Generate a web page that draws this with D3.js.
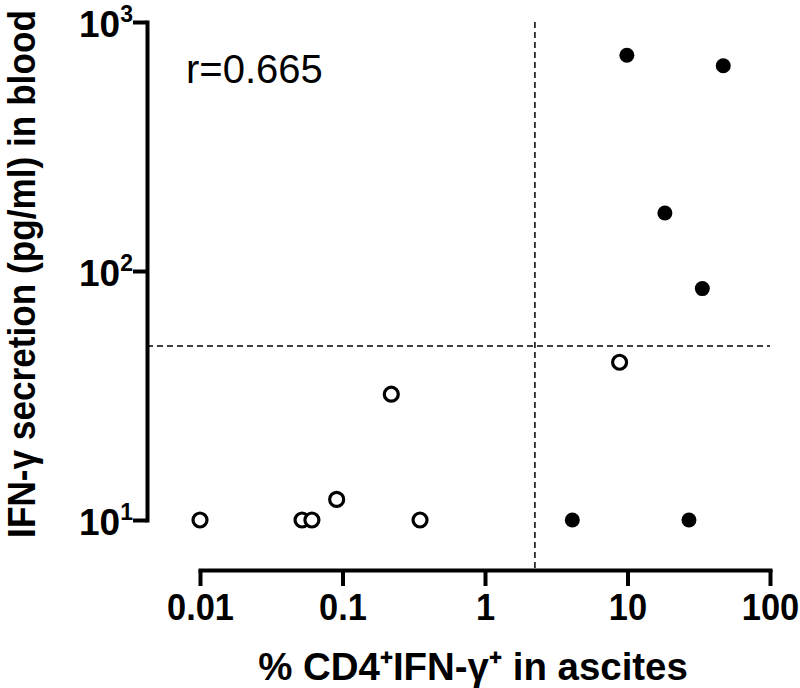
<!DOCTYPE html>
<html>
<head>
<meta charset="utf-8">
<script src="https://cdn.jsdelivr.net/npm/d3@7"></script>
<style>
  html, body { margin: 0; padding: 0; background: #fff; }
  svg { display: block; }
  .bold { font-family: "Liberation Sans", Arial, Helvetica, sans-serif; font-weight: bold; }
</style>
</head>
<body>
<svg id="chart" width="800" height="688"></svg>
<script>
// ---- data ----
const xTickValues = [0.01, 0.1, 1, 10, 100];
const xTickLabels = ["0.01", "0.1", "1", "10", "100"];
const yTickValues = [10, 100, 1000];
const yTickExponents = ["1", "2", "3"];

// open circles (negative group)
const openX = [0.01, 0.052, 0.061, 0.091, 0.22, 0.35, 8.8];
const openY = [10, 10, 10, 12.1, 32, 10, 43];
// filled circles (positive group)
const filledX = [4.1, 27, 9.9, 47, 18.3, 33.5];
const filledY = [10, 10, 735, 667, 171, 85];

const cutX = 2.24;   // vertical dashed threshold
const cutY = 50;     // horizontal dashed threshold
const corrLabel = "r=0.665";
const xTitle = "% CD4⁺IFN-γ⁺ in ascites";
const yTitle = "IFN-γ secretion (pg/ml) in blood";

// ---- scales ----
const x = d3.scaleLog().domain([0.01, 100]).range([200, 770]);
const y = d3.scaleLog().domain([10, 1000]).range([520, 22]);

const svg = d3.select("#chart");

// dashed threshold lines
svg.append("line")
  .attr("x1", x(cutX)).attr("x2", x(cutX))
  .attr("y1", y(1000)).attr("y2", 570)
  .attr("stroke", "#000").attr("stroke-width", 1.5)
  .attr("stroke-dasharray", "6,4");
svg.append("line")
  .attr("x1", 147).attr("x2", x(100))
  .attr("y1", y(cutY)).attr("y2", y(cutY))
  .attr("stroke", "#000").attr("stroke-width", 1.5)
  .attr("stroke-dasharray", "6,4");

// X axis
const xAxis = d3.axisBottom(x)
  .tickValues(xTickValues)
  .tickFormat((d, i) => xTickLabels[i])
  .tickSize(16)
  .tickSizeOuter(0);
const gx = svg.append("g").attr("transform", "translate(0,570)").call(xAxis);
gx.select(".domain").attr("stroke-width", 4).attr("stroke-linecap", "square");
gx.selectAll(".tick line").attr("stroke-width", 4);
gx.selectAll(".tick text")
  .attr("class", "bold")
  .attr("font-size", 37)
  .attr("fill", "#000")
  .attr("y", 0).attr("dy", 0)
  .attr("transform", "translate(0,50) scale(0.93,1)");

// Y axis
const yAxis = d3.axisLeft(y)
  .tickValues(yTickValues)
  .tickFormat("")
  .tickSize(14)
  .tickSizeOuter(0);
const gy = svg.append("g").attr("transform", "translate(147,0)").call(yAxis);
gy.select(".domain").attr("stroke-width", 4).attr("stroke-linecap", "square");
gy.selectAll(".tick line").attr("stroke-width", 4);
gy.selectAll(".tick").each(function(d, i) {
  const t = d3.select(this).select("text")
    .attr("class", "bold")
    .attr("font-size", 37)
    .attr("fill", "#000")
    .attr("x", -14).attr("dy", 0).attr("y", 14)
    .attr("text-anchor", "end");
  t.text(null);
  t.append("tspan").text("10");
  t.append("tspan").attr("font-size", 23).attr("dy", -15).text(yTickExponents[i]);
});

// points
svg.append("g").selectAll("circle")
  .data(openX.map((v, i) => [v, openY[i]]))
  .join("circle")
  .attr("cx", d => x(d[0])).attr("cy", d => y(d[1]))
  .attr("r", 7)
  .attr("fill", "#fff").attr("stroke", "#000").attr("stroke-width", 3.2);

svg.append("g").selectAll("circle")
  .data(filledX.map((v, i) => [v, filledY[i]]))
  .join("circle")
  .attr("cx", d => x(d[0])).attr("cy", d => y(d[1]))
  .attr("r", 7.5)
  .attr("fill", "#000");

// correlation label
svg.append("text")
  .attr("x", 186).attr("y", 83)
  .attr("font-family", "Liberation Sans, Arial, sans-serif")
  .attr("font-size", 40)
  .attr("fill", "#000")
  .text(corrLabel);

// axis titles (horizontally condensed to the reference's widths)
function fitText(sel, targetLen, baseTransform) {
  const natural = sel.node().getComputedTextLength();
  const k = Math.min(1.1, targetLen / natural);
  sel.attr("transform", baseTransform + " scale(" + k + ",1)");
}

const xt = svg.append("text")
  .attr("class", "bold")
  .attr("x", 0).attr("y", 0)
  .attr("text-anchor", "middle")
  .attr("font-size", 38)
  .attr("fill", "#000")
  .text(xTitle);
fitText(xt, 430, "translate(473,680)");

const yt = svg.append("text")
  .attr("class", "bold")
  .attr("x", 0).attr("y", 0)
  .attr("text-anchor", "middle")
  .attr("font-size", 38)
  .attr("fill", "#000")
  .text(yTitle);
fitText(yt, 528, "translate(35,274) rotate(-90)");
</script>
</body>
</html>
